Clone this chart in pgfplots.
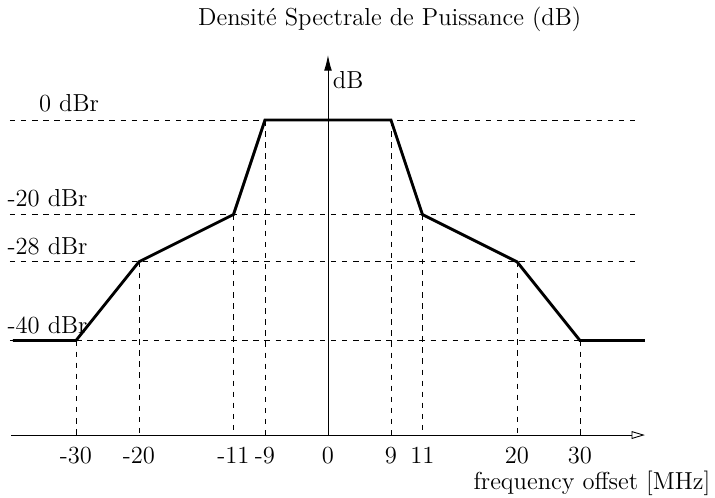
\documentclass[border=0pt]{standalone}
\usepackage{pgfplots}
\pgfplotsset{compat=1.18}
\usetikzlibrary{arrows.meta}
\begin{document}
\begin{tikzpicture}[font=\fontsize{11.1}{13.3}\selectfont]
\begin{axis}[
    x=1cm, y=1cm,
    xmin=-5.03, xmax=5.03,
    ymin=0, ymax=6.03,
    axis x line=bottom,
    axis y line=middle,
    x axis line style={-{Triangle[open,length=6pt,width=3.5pt]}},
    y axis line style={-{Latex[length=7pt,width=3.5pt]}},
    xtick={-4,-3,-1.5,-1,0,1,1.5,3,4},
    xticklabels={-30,-20,-11,-9,0,9,11,20,30},
    ytick=\empty,
    hide obscured x ticks=false,
    tick style={draw=none},
    clip=false,
]
% gabarit
\addplot[line width=1.3pt, black] coordinates {
    (-5.0,1.5)(-4,1.5)(-3,2.75)(-1.5,3.5)(-1,5)(1,5)(1.5,3.5)(3,2.75)(4,1.5)(5.03,1.5)
};
% niveaux
\addplot[thin, dash pattern=on 2.5pt off 2.5pt] coordinates {(-5.05,5)(4.95,5)};
\addplot[thin, dash pattern=on 2.5pt off 2.5pt] coordinates {(-5.05,3.5)(4.95,3.5)};
\addplot[thin, dash pattern=on 2.5pt off 2.5pt] coordinates {(-5.05,2.75)(4.95,2.75)};
\addplot[thin, dash pattern=on 2.5pt off 2.5pt] coordinates {(-5.05,1.5)(4.95,1.5)};
% verticales
\addplot[thin, dash pattern=on 2.5pt off 2.5pt] coordinates {(-4,1.5)(-4,0)};
\addplot[thin, dash pattern=on 2.5pt off 2.5pt] coordinates {(4,1.5)(4,0)};
\addplot[thin, dash pattern=on 2.5pt off 2.5pt] coordinates {(-3,2.75)(-3,0)};
\addplot[thin, dash pattern=on 2.5pt off 2.5pt] coordinates {(3,2.75)(3,0)};
\addplot[thin, dash pattern=on 2.5pt off 2.5pt] coordinates {(-1.5,3.5)(-1.5,0)};
\addplot[thin, dash pattern=on 2.5pt off 2.5pt] coordinates {(1.5,3.5)(1.5,0)};
\addplot[thin, dash pattern=on 2.5pt off 2.5pt] coordinates {(-1,5)(-1,0)};
\addplot[thin, dash pattern=on 2.5pt off 2.5pt] coordinates {(1,5)(1,0)};

\node at (axis cs:-4.11,5.27) {0 dBr};
\node at (axis cs:-4.45,3.76) {-20 dBr};
\node at (axis cs:-4.45,3.00) {-28 dBr};
\node at (axis cs:-4.45,1.75) {-40 dBr};
\node at (axis cs:0.98,6.59) {Densit\'e Spectrale de Puissance (dB)};
\node at (axis cs:0.32,5.63) {dB};
\node at (axis cs:4.19,-0.76) {frequency offset [MHz]};

\coordinate (bbsw) at (axis cs:-5.206,-0.984);
\coordinate (bbne) at (axis cs:6.143,6.905);
\end{axis}
\pgfresetboundingbox
\path[use as bounding box] (bbsw) rectangle (bbne);
\end{tikzpicture}
\end{document}
